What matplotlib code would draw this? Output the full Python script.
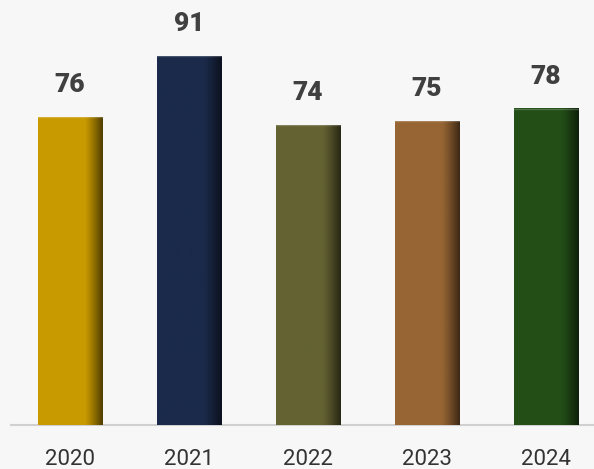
import numpy as np
import matplotlib.pyplot as plt
from matplotlib.colors import to_rgb

# Data
tahun = ['2020', '2021', '2022', '2023', '2024']
nilai = [76, 91, 74, 75, 78]
warna = ['#C99A00', '#1B2A4A', '#646232', '#976534', '#234F17']

bg = '#F7F7F7'
lebar = 0.54

fig = plt.figure(figsize=(5.94, 4.69), dpi=100, facecolor=bg)
ax = fig.add_axes([11 / 594, 44 / 469, 1 - 11 / 594, 425 / 469])
ax.set_facecolor(bg)

x = np.arange(len(tahun))
bars = ax.bar(x, nilai, width=lebar, color=warna, zorder=2)

# Gradasi gelap di sisi kanan tiap batang
n = 100
t = np.linspace(0, 1, n)
faktor = np.where(t < 0.72, 1.0, 1 - 0.6 * ((t - 0.72) / 0.28) ** 1.2)
for b, c in zip(bars, warna):
    rgb = np.array(to_rgb(c))
    img = (faktor[:, None] * rgb[None, :])[None, :, :]
    x0 = b.get_x()
    ax.imshow(img, extent=[x0, x0 + b.get_width(), 0, b.get_height()],
              aspect='auto', zorder=3, interpolation='bilinear')
    # garis terang tipis di atas
    ax.plot([x0, x0 + b.get_width()], [b.get_height()] * 2,
            color='white', alpha=0.2, lw=1.0, zorder=4)

for xi, v in zip(x, nilai):
    ax.text(xi, v + 7.9, str(v), ha='center', va='center',
            fontsize=19, fontweight='heavy', color='#404040', family='Roboto')

ax.set_xlim(-0.496, 4.403)
ax.set_ylim(0, 104.9)
ax.set_xticks(x)
ax.set_xticklabels(tahun, fontsize=16, color='#333333', family='Roboto')
ax.tick_params(axis='x', length=0, pad=17)
ax.set_yticks([])
for s in ['top', 'right', 'left']:
    ax.spines[s].set_visible(False)
ax.spines['bottom'].set_color('#D0D0D0')
ax.spines['bottom'].set_linewidth(1.5)

fig.savefig('out.png', dpi=100, facecolor=bg)
